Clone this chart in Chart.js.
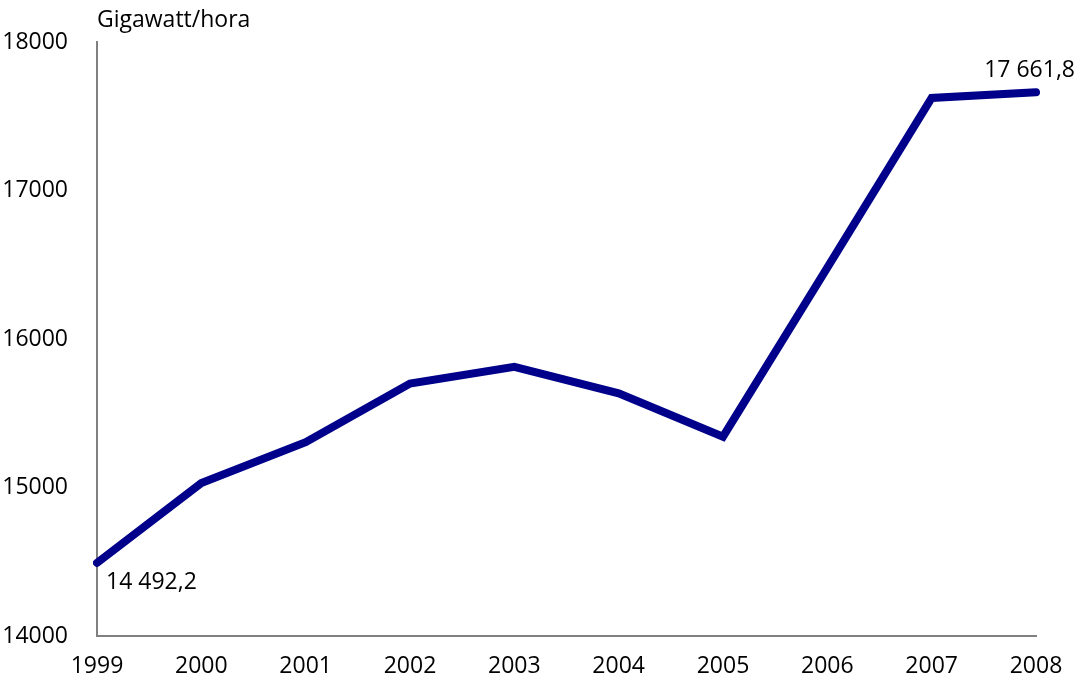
<!DOCTYPE html>
<html>
<head>
<meta charset="utf-8">
<script src="https://cdn.jsdelivr.net/npm/chart.js@4.4.1/dist/chart.umd.min.js"></script>
<style>
    html, body { margin: 0; padding: 0; background: #fff; }
    #wrap { width: 1080px; height: 675px; }
</style>
</head>
<body>
<div id="wrap"><canvas id="energyChart" width="1080" height="675"></canvas></div>
<script>
// Chart data
const years = ['1999', '2000', '2001', '2002', '2003', '2004', '2005', '2006', '2007', '2008'];
const consumption = [14492.2, 15030, 15305, 15700, 15812, 15634, 15342, 16480, 17623, 17661.8];
const yTicks = [14000, 15000, 16000, 17000, 18000];
const unitLabel = 'Gigawatt/hora';

const FONT = '"Open Sans", "Noto Sans", sans-serif';
const FONT_SIZE = 23;
const AXIS_GREY = '#808080';

// Format like "14 492,2"
function formatValue(v) {
    const parts = v.toFixed(1).split('.');
    const intPart = parts[0].replace(/\B(?=(\d{3})+(?!\d))/g, ' ');
    return intPart + ',' + parts[1];
}

// Draws the unit title and the first / last value labels
const annotationsPlugin = {
    id: 'annotations',
    afterDatasetsDraw(chart) {
        const { ctx, chartArea } = chart;
        const meta = chart.getDatasetMeta(0);
        const first = meta.data[0];
        const last = meta.data[meta.data.length - 1];

        ctx.save();
        ctx.fillStyle = '#000';
        ctx.font = FONT_SIZE + 'px ' + FONT;

        // unit above the y axis
        ctx.textAlign = 'left';
        ctx.textBaseline = 'middle';
        ctx.fillText(unitLabel, chartArea.left, 20);

        // first value, below right of the point
        ctx.fillText(formatValue(consumption[0]), first.x + 9, first.y + 20);

        // last value, above the point
        ctx.textAlign = 'right';
        ctx.fillText(formatValue(consumption[consumption.length - 1]), last.x + 39, last.y - 22);
        ctx.restore();
    }
};

const ctx = document.getElementById('energyChart').getContext('2d');
new Chart(ctx, {
    type: 'line',
    data: {
        labels: years,
        datasets: [{
            label: unitLabel,
            data: consumption,
            borderColor: '#00008a',
            borderWidth: 8,
            borderCapStyle: 'round',
            borderJoinStyle: 'miter',
            pointRadius: 0,
            tension: 0,
            fill: false
        }]
    },
    options: {
        responsive: false,
        animation: false,
        layout: {
            padding: { top: 42, right: 44, bottom: 0, left: 0 }
        },
        plugins: {
            legend: { display: false },
            tooltip: { enabled: false }
        },
        scales: {
            x: {
                type: 'category',
                offset: false,
                grid: { display: false },
                border: { display: true, color: AXIS_GREY, width: 2 },
                ticks: {
                    color: '#000',
                    font: { family: FONT, size: FONT_SIZE },
                    padding: 9,
                    maxRotation: 0,
                    autoSkip: false
                },
                afterFit: function(scale) {
                    scale.height = 39;
                }
            },
            y: {
                min: 14000,
                max: 18000,
                afterBuildTicks: function(scale) {
                    scale.ticks = yTicks.map(v => ({ value: v }));
                },
                grid: { display: false },
                border: { display: true, color: AXIS_GREY, width: 2 },
                ticks: {
                    color: '#000',
                    font: { family: FONT, size: FONT_SIZE },
                    padding: 21,
                    callback: function(value) {
                        return String(value);
                    }
                },
                afterFit: function(scale) {
                    scale.width = 97;
                }
            }
        }
    },
    plugins: [annotationsPlugin]
});
</script>
</body>
</html>
